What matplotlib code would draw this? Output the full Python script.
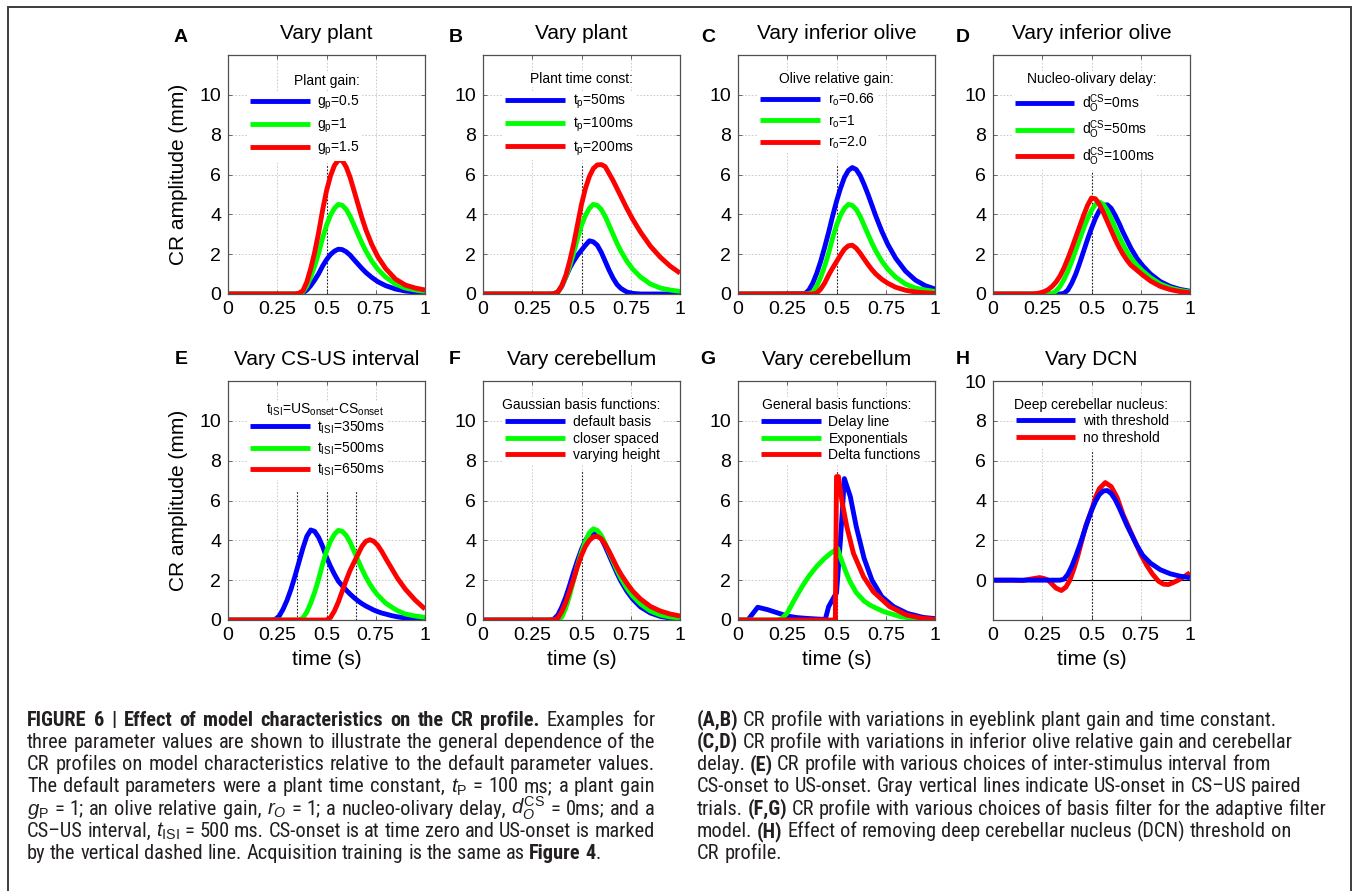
import matplotlib
matplotlib.use("Agg")
import matplotlib.pyplot as plt
from matplotlib import font_manager as fm
from matplotlib.patches import Rectangle
from matplotlib.transforms import IdentityTransform

# ------------------------------------------------------------------ data
X_STD = [0.00, 0.34, 0.36, 0.38, 0.40, 0.42, 0.44, 0.46, 0.48, 0.50,
         0.52, 0.54, 0.56, 0.58, 0.60, 0.62, 0.64, 0.66, 0.68, 0.70,
         0.73, 0.76, 0.80, 0.85, 0.90, 0.95, 1.00]

# A: plant gain
A_blue = [0, 0, 0, 0.05, 0.2, 0.42, 0.7, 1.02, 1.4, 1.72,
          1.98, 2.15, 2.25, 2.23, 2.12, 1.95, 1.72, 1.5, 1.28, 1.08,
          0.83, 0.62, 0.42, 0.25, 0.15, 0.1, 0.06]
A_green = [0, 0, 0.02, 0.1, 0.4, 0.85, 1.4, 2.05, 2.8, 3.45,
           3.95, 4.3, 4.5, 4.45, 4.25, 3.9, 3.45, 3.0, 2.55, 2.15,
           1.65, 1.25, 0.85, 0.5, 0.3, 0.2, 0.13]
A_red = [0, 0, 0.04, 0.16, 0.6, 1.28, 2.1, 3.08, 4.2, 5.18,
         5.92, 6.45, 6.72, 6.7, 6.38, 5.85, 5.18, 4.5, 3.82, 3.22,
         2.48, 1.88, 1.28, 0.75, 0.45, 0.3, 0.2]

# B: plant time constant
B_blue = [0, 0, 0, 0.1, 0.38, 0.85, 1.3, 1.65, 1.95, 2.2,
          2.45, 2.67, 2.62, 2.45, 2.1, 1.65, 1.2, 0.8, 0.48, 0.28,
          0.1, 0.03, 0, 0, 0, 0, 0]
B_green = [0, 0, 0.02, 0.1, 0.4, 0.85, 1.4, 2.05, 2.8, 3.45,
           3.95, 4.3, 4.5, 4.45, 4.25, 3.9, 3.45, 3.0, 2.55, 2.15,
           1.65, 1.25, 0.85, 0.5, 0.3, 0.2, 0.13]
B_red = [0, 0, 0.02, 0.1, 0.42, 0.92, 1.65, 2.5, 3.5, 4.5,
         5.3, 5.9, 6.3, 6.48, 6.5, 6.4, 6.05, 5.7, 5.3, 4.9,
         4.3, 3.75, 3.1, 2.4, 1.85, 1.4, 1.05]

# C: olive relative gain
C_blue = [0, 0.02, 0.2, 0.55, 1.05, 1.65, 2.35, 3.1, 3.9, 4.65,
          5.3, 5.85, 6.2, 6.35, 6.25, 5.95, 5.5, 5.0, 4.45, 3.9,
          3.15, 2.5, 1.8, 1.15, 0.7, 0.42, 0.25]
C_green = [0, 0, 0.02, 0.1, 0.4, 0.85, 1.4, 2.05, 2.8, 3.45,
           3.95, 4.3, 4.5, 4.45, 4.25, 3.9, 3.45, 3.0, 2.55, 2.15,
           1.65, 1.25, 0.85, 0.5, 0.3, 0.2, 0.13]
C_red = [0, 0, 0, 0, 0.05, 0.25, 0.55, 0.95, 1.3, 1.62,
         1.95, 2.25, 2.42, 2.45, 2.3, 2.05, 1.76, 1.48, 1.22, 1.0,
         0.74, 0.54, 0.34, 0.19, 0.1, 0.06, 0.03]

# D: nucleo-olivary delay
X_D = [0, 0.20, 0.22, 0.24, 0.26, 0.28, 0.30, 0.32, 0.34, 0.36,
       0.38, 0.40, 0.42, 0.44, 0.46, 0.48, 0.50, 0.52, 0.54, 0.56,
       0.58, 0.60, 0.62, 0.64, 0.66, 0.68, 0.70,
       0.73, 0.76, 0.80, 0.85, 0.90, 0.95, 1.0]
D_blue = [0, 0, 0, 0, 0, 0, 0, 0, 0, 0.03,
          0.2, 0.55, 1.0, 1.55, 2.15, 2.75, 3.3, 3.8, 4.2, 4.45,
          4.48, 4.3, 3.95, 3.55, 3.1, 2.7, 2.3,
          1.8, 1.42, 1.0, 0.62, 0.38, 0.23, 0.14]
D_green = [0, 0, 0, 0, 0, 0, 0.03, 0.15, 0.38, 0.72,
           1.15, 1.65, 2.2, 2.75, 3.3, 3.8, 4.2, 4.5, 4.62, 4.5,
           4.2, 3.8, 3.35, 2.9, 2.5, 2.13, 1.82,
           1.45, 1.15, 0.82, 0.5, 0.3, 0.18, 0.1]
D_red = [0, 0, 0.02, 0.06, 0.12, 0.22, 0.38, 0.6, 0.9, 1.3,
         1.78, 2.3, 2.85, 3.4, 3.95, 4.45, 4.82, 4.78, 4.5, 4.1,
         3.65, 3.2, 2.75, 2.35, 2.0, 1.7, 1.45,
         1.2, 0.95, 0.65, 0.38, 0.22, 0.12, 0.06]

# E: CS-US interval
X_E = [0, 0.22, 0.24, 0.26, 0.28, 0.30, 0.32, 0.34, 0.36, 0.38,
       0.40, 0.42, 0.44, 0.46, 0.48, 0.50, 0.52, 0.54, 0.56, 0.58,
       0.60, 0.62, 0.64, 0.66, 0.68, 0.70, 0.72, 0.74, 0.76, 0.78,
       0.80, 0.83, 0.86, 0.90, 0.95, 1.0]
E_blue = [0, 0, 0.03, 0.2, 0.55, 1.0, 1.55, 2.2, 2.9, 3.6,
          4.2, 4.52, 4.45, 4.15, 3.7, 3.15, 2.7, 2.3, 1.95, 1.72,
          1.5, 1.3, 1.12, 0.96, 0.82, 0.7, 0.6, 0.5, 0.42, 0.35,
          0.3, 0.22, 0.16, 0.1, 0.06, 0.04]
E_green = [0, 0, 0, 0, 0, 0, 0, 0, 0, 0.1,
           0.4, 0.85, 1.4, 2.05, 2.8, 3.45, 3.95, 4.3, 4.5, 4.45,
           4.25, 3.9, 3.45, 3.0, 2.55, 2.15, 1.8, 1.5, 1.25, 1.05,
           0.85, 0.65, 0.47, 0.3, 0.2, 0.13]
E_red = [0, 0, 0, 0, 0, 0, 0, 0, 0, 0,
         0, 0, 0, 0, 0, 0, 0.12, 0.45, 0.9, 1.45,
         2.0, 2.5, 2.9, 3.3, 3.7, 3.95, 4.03, 3.95, 3.75, 3.45,
         3.1, 2.6, 2.1, 1.55, 1.0, 0.55]

# F: Gaussian basis functions
F_blue = [0, 0, 0.05, 0.25, 0.65, 1.15, 1.75, 2.4, 3.0, 3.55,
          4.0, 4.3, 4.42, 4.35, 4.1, 3.7, 3.25, 2.8, 2.35, 1.95,
          1.45, 1.05, 0.65, 0.35, 0.18, 0.1, 0.05]
F_green = [0, 0, 0, 0, 0.15, 0.6, 1.25, 2.0, 2.75, 3.4,
           3.95, 4.38, 4.58, 4.5, 4.25, 3.85, 3.4, 2.95, 2.5, 2.1,
           1.6, 1.2, 0.8, 0.45, 0.25, 0.15, 0.1]
F_red = [0, 0, 0, 0.1, 0.42, 0.88, 1.45, 2.05, 2.7, 3.25,
         3.7, 4.0, 4.17, 4.2, 4.08, 3.8, 3.45, 3.05, 2.65, 2.3,
         1.85, 1.45, 1.05, 0.68, 0.45, 0.3, 0.2]

# G: general basis functions
G_blue_x = [0, 0.05, 0.10, 0.15, 0.20, 0.25, 0.30, 0.35, 0.40, 0.443, 0.46, 0.488,
            0.50, 0.52, 0.54, 0.57, 0.60, 0.64, 0.68, 0.73, 0.79, 0.86, 0.94, 1.0]
G_blue = [0, 0, 0.64, 0.52, 0.36, 0.2, 0.12, 0.08, 0.05, 0.03, 0.67, 1.17,
          1.35, 4.0, 7.1, 6.2, 4.7, 3.1, 2.0, 1.17, 0.67, 0.33, 0.13, 0.07]
G_green_x = [0, 0.20, 0.22, 0.25, 0.28, 0.30, 0.33, 0.36, 0.40, 0.44, 0.47, 0.50, 0.505,
             0.52, 0.535, 0.55, 0.57, 0.60, 0.64, 0.67, 0.70, 0.74, 0.78, 0.82, 0.88, 0.94, 1.0]
G_green = [0, 0, 0.05, 0.35, 0.9, 1.25, 1.75, 2.2, 2.7, 3.1, 3.35, 3.55, 3.6,
           3.15, 2.75, 2.35, 1.9, 1.38, 0.95, 0.75, 0.6, 0.42, 0.3, 0.18, 0.09, 0.04, 0.02]
G_red_x = [0, 0.494, 0.50, 0.51, 0.527, 0.552, 0.586, 0.637, 0.687, 0.77, 0.856, 0.94, 1.0]
G_red = [0, 0, 7.2, 7.2, 6.0, 4.7, 3.35, 2.18, 1.42, 0.67, 0.25, 0.08, 0.03]

# H: deep cerebellar nucleus
H_blue = [0, 0, 0.05, 0.3, 0.7, 1.2, 1.75, 2.35, 2.95, 3.5,
          3.95, 4.3, 4.48, 4.5, 4.35, 4.05, 3.65, 3.2, 2.75, 2.35,
          1.75, 1.25, 0.85, 0.52, 0.32, 0.2, 0.12]
H_red_x = [0, 0.10, 0.15, 0.20, 0.237, 0.26, 0.28, 0.30, 0.32, 0.347, 0.37, 0.39,
           0.41, 0.43, 0.45, 0.47, 0.50, 0.52, 0.54, 0.57, 0.60, 0.63, 0.66, 0.70,
           0.75, 0.78, 0.81, 0.84, 0.865, 0.89, 0.915, 0.94, 0.966, 1.0]
H_red = [0, 0, -0.02, 0.07, 0.13, 0.08, 0.0, -0.2, -0.4, -0.52, -0.35, 0.0,
         0.55, 1.2, 1.95, 2.7, 3.5, 4.15, 4.6, 4.9, 4.7, 4.15, 3.3, 2.4,
         1.3, 0.75, 0.3, -0.05, -0.2, -0.22, -0.12, 0.0, 0.15, 0.37]

X_TICKS = [0, 0.25, 0.5, 0.75, 1]
X_TICKLABELS = ['0', '0.25', '0.5', '0.75', '1']
Y_TICKS = [0, 2, 4, 6, 8, 10]
Y_TICKLABELS = ['0', '2', '4', '6', '8', '10']

# --------------------------------------------------------------- styling
W, H = 1354, 891
DPI = 100


def has_font(name):
    try:
        fm.findfont(fm.FontProperties(family=name), fallback_to_default=False)
        return True
    except Exception:
        return False


MAIN = 'Liberation Sans' if has_font('Liberation Sans') else 'DejaVu Sans'


def pick_caption_font():
    for fam in ['Liberation Sans Narrow', 'Arial Narrow', 'Roboto Condensed',
                'Open Sans Condensed', 'Noto Sans Condensed']:
        if has_font(fam):
            return dict(family=[fam, 'DejaVu Sans'], fontstretch='normal'), 'custom'
    for fam in ['Noto Sans', 'DejaVu Sans', 'Open Sans']:
        try:
            path = fm.findfont(fm.FontProperties(family=fam, stretch='condensed'),
                               fallback_to_default=False)
        except Exception:
            continue
        if 'ondensed' in path:
            return dict(family=[fam], fontstretch='condensed'), (
                'dejavusans' if fam == 'DejaVu Sans' else 'custom')
    return dict(family=[MAIN, 'DejaVu Sans'], fontstretch='normal'), 'custom'


CAP_PROPS, CAP_MATH = pick_caption_font()

plt.rcParams.update({
    'font.family': [MAIN, 'DejaVu Sans'],
    'mathtext.fontset': 'custom',
    'mathtext.rm': MAIN,
    'mathtext.it': MAIN + ':italic',
    'mathtext.bf': MAIN + ':bold',
    'mathtext.default': 'regular',
    'axes.unicode_minus': False,
})

BLUE, GREEN, RED = '#0000ff', '#00ff00', '#ff0000'
LW = 3.5

panels = [
    dict(letter='A', title='Vary plant', lt='Plant gain:',
         curves=[(X_STD, A_blue, BLUE, '$g_p$=0.5'), (X_STD, A_green, GREEN, '$g_p$=1'),
                 (X_STD, A_red, RED, '$g_p$=1.5')],
         vl=[(0.5, 0, 6.5)], leg=(0.112, 0.808), ltY=0.892, ls=0.35),
    dict(letter='B', title='Vary plant', lt='Plant time const:',
         curves=[(X_STD, B_blue, BLUE, '$t_p$=50ms'), (X_STD, B_green, GREEN, '$t_p$=100ms'),
                 (X_STD, B_red, RED, '$t_p$=200ms')],
         vl=[(0.5, 0, 6.5)], leg=(0.114, 0.812), ltY=0.9, ls=0.35),
    dict(letter='C', title='Vary inferior olive', lt='Olive relative gain:',
         curves=[(X_STD, C_blue, BLUE, '$r_o$=0.66'), (X_STD, C_green, GREEN, '$r_o$=1'),
                 (X_STD, C_red, RED, '$r_o$=2.0')],
         vl=[(0.5, 0, 6.5)], leg=(0.113, 0.815), ltY=0.9, ls=0.35),
    dict(letter='D', title='Vary inferior olive', lt='Nucleo-olivary delay:',
         curves=[(X_D, D_blue, BLUE, '$d_O^{CS}$=0ms'), (X_D, D_green, GREEN, '$d_O^{CS}$=50ms'),
                 (X_D, D_red, RED, '$d_O^{CS}$=100ms')],
         vl=[(0.5, 0, 6.15)], leg=(0.110, 0.80), ltY=0.9, ls=0.3),
    dict(letter='E', title='Vary CS-US interval', lt='$t_{ISI}$=US$_{onset}$-CS$_{onset}$',
         curves=[(X_E, E_blue, BLUE, '$t_{ISI}$=350ms'), (X_E, E_green, GREEN, '$t_{ISI}$=500ms'),
                 (X_E, E_red, RED, '$t_{ISI}$=650ms')],
         vl=[(0.35, 0, 6.5), (0.5, 0, 6.5), (0.65, 0, 6.5)], leg=(0.112, 0.81), ltY=0.88, ltX=0.49, ls=0.35),
    dict(letter='F', title='Vary cerebellum', lt='Gaussian basis functions:',
         curves=[(X_STD, F_blue, BLUE, 'default basis'), (X_STD, F_green, GREEN, 'closer spaced'),
                 (X_STD, F_red, RED, 'varying height')],
         vl=[(0.5, 0, 7.5)], leg=(0.114, 0.833), ltY=0.9, ls=0.2),
    dict(letter='G', title='Vary cerebellum', lt='General basis functions:',
         curves=[(G_blue_x, G_blue, BLUE, 'Delay line'), (G_green_x, G_green, GREEN, 'Exponentials'),
                 (G_red_x, G_red, RED, 'Delta functions')],
         vl=[(0.5, 0, 7.5)], leg=(0.117, 0.833), ltY=0.9, ls=0.2),
    dict(letter='H', title='Vary DCN', lt='Deep cerebellar nucleus:',
         curves=[(H_red_x, H_red, RED, 'no threshold'), (X_STD, H_blue, BLUE, 'with threshold')],
         legorder=[1, 0], vl=[(0.5, -2, 6.5)], leg=(0.115, 0.835), ltY=0.9, ls=0.2, ylim=(-2, 10)),
]

LETTER_POS = [(181, 37), (456, 37), (708, 37), (963, 37),
              (181, 359), (455, 359), (708, 359), (963, 359)]
AX_L = [228, 483, 738, 993]
AX_W = 197
ROWS = [(55, 294), (381, 620)]

fig = plt.figure(figsize=(W / DPI, H / DPI), dpi=DPI)
fig.patch.set_facecolor('white')

legs = []
for i, p in enumerate(panels):
    r, c = divmod(i, 4)
    top, bot = ROWS[r]
    ax = fig.add_axes([AX_L[c] / W, 1 - bot / H, AX_W / W, (bot - top) / H])
    ax.set_xlim(0, 1)
    ax.set_ylim(*p.get('ylim', (0, 12)))
    ax.set_xticks(X_TICKS)
    ax.set_xticklabels(X_TICKLABELS)
    ax.set_yticks(Y_TICKS)
    ax.set_yticklabels(Y_TICKLABELS)
    ax.grid(True, color='#c4c4c4', linestyle=(0, (2, 2)), linewidth=0.6)
    ax.set_axisbelow(True)
    for s in ax.spines.values():
        s.set_color('#505050')
        s.set_linewidth(0.9)
    ax.tick_params(direction='in', length=3, width=0.6, color='#505050',
                   labelcolor='black', labelsize=14, top=True, right=True, pad=5)
    ax.set_title(p['title'], fontsize=15, pad=11.5)

    if p.get('ylim', (0, 12))[0] < 0:
        ax.axhline(0, color='black', lw=0.8, zorder=1.5)
    for (xv, y0, y1) in p['vl']:
        ax.plot([xv, xv], [y0, y1], color='#202020', lw=0.8, ls=(0, (1.5, 1.5)), zorder=1.6)

    handles = []
    for (xs, ys, col, lab) in p['curves']:
        ln, = ax.plot(xs, ys, color=col, lw=LW, solid_joinstyle='round',
                      solid_capstyle='butt', label=lab, zorder=2)
        handles.append(ln)
    order = p.get('legorder', list(range(len(handles))))
    hs = [handles[k] for k in order]
    leg = ax.legend(hs, [h.get_label() for h in hs], loc='upper left',
                    bbox_to_anchor=(p['leg'][0], p['leg'][1] + 0.04),
                    bbox_transform=ax.transAxes, frameon=True, facecolor='white',
                    edgecolor='none', framealpha=1, fancybox=False, borderpad=0.15,
                    borderaxespad=0, handlelength=4.3, handletextpad=0.55,
                    labelspacing=p['ls'], fontsize=10)
    leg.set_zorder(5)
    ax.text(p.get('ltX', 0.5), p['ltY'], p['lt'], transform=ax.transAxes, ha='center',
            va='center', fontsize=10, zorder=6,
            bbox=dict(fc='white', ec='none', pad=0.5))
    legs.append((ax, leg, p['leg']))

    if c == 0:
        ax.set_ylabel('CR amplitude (mm)', fontsize=15)
        ax.yaxis.set_label_coords(-0.205, 0.5)
    if r == 1:
        ax.set_xlabel('time (s)', fontsize=15)
        ax.xaxis.set_label_coords(0.5, -0.125)

    lx, ly = LETTER_POS[i]
    fig.text(lx / W, 1 - ly / H, p['letter'], ha='center', va='center',
             fontsize=14, weight='bold')

# figure border
fig.add_artist(Rectangle((8 / W, -0.02), (1351 - 8) / W, (1 - 7 / H) + 0.02,
                         transform=fig.transFigure, fill=False,
                         edgecolor='#3c3c3c', lw=1.4))

fig.canvas.draw()
renderer = fig.canvas.get_renderer()

# align legends so that the first handle sits where it does in the reference
for ax, leg, (tx, ty) in legs:
    axb = ax.get_window_extent(renderer)
    h0 = leg.legend_handles[0]
    bb = h0.get_window_extent(renderer)
    cx, cy = bb.x0, 0.5 * (bb.y0 + bb.y1)
    dx = (axb.x0 + tx * axb.width) - cx
    dy = (axb.y0 + ty * axb.height) - cy
    old = leg.get_bbox_to_anchor().transformed(ax.transAxes.inverted())
    leg.set_bbox_to_anchor((old.x0 + dx / axb.width, old.y1 + dy / axb.height),
                           transform=ax.transAxes)

# ---------------------------------------------------------------- caption
CAP_COLOR = '#231f20'
LEFT_LINES = [
    [('FIGURE 6 | Effect of model characteristics on the CR profile.', 'b'), (' Examples for', 'n')],
    [('three parameter values are shown to illustrate the general dependence of the', 'n')],
    [('CR profiles on model characteristics relative to the default parameter values.', 'n')],
    [(r'The default parameters were a plant time constant, $\mathit{t}_\mathrm{P}$ = 100 ms; a plant gain', 'n')],
    [(r'$\mathit{g}_\mathrm{P}$ = 1; an olive relative gain, $\mathit{r}_\mathit{O}$ = 1; a nucleo-olivary delay, '
      r'$\mathit{d}_\mathit{O}^\mathrm{CS}$ = 0ms; and a', 'n')],
    [(r'CS–US interval, $\mathit{t}_\mathrm{ISI}$ = 500 ms. CS-onset is at time zero and US-onset is marked', 'n')],
    [('by the vertical dashed line. Acquisition training is the same as', 'n'), (' Figure 4', 'b'), ('.', 'n')],
]
RIGHT_LINES = [
    [('(A,B)', 'b'), (' CR profile with variations in eyeblink plant gain and time constant.', 'n')],
    [('(C,D)', 'b'), (' CR profile with variations in inferior olive relative gain and cerebellar', 'n')],
    [('delay.', 'n'), (' (E)', 'b'), (' CR profile with various choices of inter-stimulus interval from', 'n')],
    [('CS-onset to US-onset. Gray vertical lines indicate US-onset in CS–US paired', 'n')],
    [('trials.', 'n'), (' (F,G)', 'b'), (' CR profile with various choices of basis filter for the adaptive filter', 'n')],
    [('model.', 'n'), (' (H)', 'b'), (' Effect of removing deep cerebellar nucleus (DCN) threshold on', 'n')],
    [('CR profile.', 'n')],
]


def tokenize(runs):
    toks = []
    for text, st in runs:
        parts = text.split(' ')
        for k, w in enumerate(parts):
            if w == '':
                continue
            glue = k > 0 and len(toks) > 0
            toks.append((w, st, glue))
    return toks


def cap_text(s, fs, weight='normal'):
    t = fig.text(0, 0, s, transform=IdentityTransform(), fontsize=fs,
                 color=CAP_COLOR, weight=weight, ha='left', va='baseline', **CAP_PROPS)
    t.set_math_fontfamily(CAP_MATH)
    return t


def make_texts(toks, fs):
    out = []
    for w, st, glue in toks:
        t = cap_text(w, fs, 'bold' if st == 'b' else 'normal')
        out.append((t, glue, t.get_window_extent(renderer).width))
    return out


def space_width(fs):
    a = cap_text('x x', fs)
    b = cap_text('xx', fs)
    w = a.get_window_extent(renderer).width - b.get_window_extent(renderer).width
    a.remove()
    b.remove()
    return w


def natural_width(runs, fs):
    items = make_texts(tokenize(runs), fs)
    sw = space_width(fs)
    w = sum(it[2] for it in items) + sw * sum(1 for it in items if it[1])
    for it in items:
        it[0].remove()
    return w


def draw_line(runs, x0, base_img, fs, target=None):
    items = make_texts(tokenize(runs), fs)
    sw = space_width(fs)
    nglue = sum(1 for it in items if it[1])
    total = sum(it[2] for it in items) + sw * nglue
    gap = sw
    if target is not None and nglue > 0:
        gap = sw + (target - total) / nglue
    x = x0
    y = H - base_img
    for t, glue, w in items:
        if glue:
            x += gap
        t.set_position((x, y))
        x += w


fs0 = 13.0
wmax = max(natural_width(l, fs0) for l in RIGHT_LINES)
CAP_FS = fs0 * 624.0 / wmax

BASE0 = 725.5
STEP = 22.3
for k, line in enumerate(LEFT_LINES):
    draw_line(line, 27, BASE0 + k * STEP, CAP_FS,
              target=628.0 if k < len(LEFT_LINES) - 1 else None)
for k, line in enumerate(RIGHT_LINES):
    draw_line(line, 697, BASE0 + k * STEP, CAP_FS)

print('caption font', CAP_PROPS, CAP_FS)
fig.savefig('out.png', dpi=DPI, facecolor='white')
